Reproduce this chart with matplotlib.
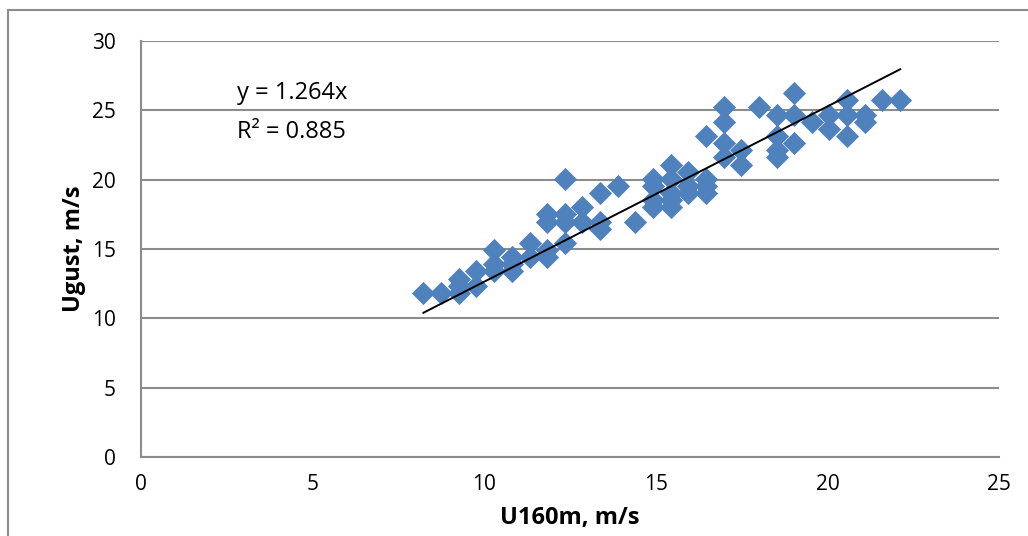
import numpy as np
import matplotlib
matplotlib.use("Agg")
import matplotlib.pyplot as plt
from matplotlib.patches import Rectangle

# wind speed at 160 m and gust speed, m/s
u160 = [8.23, 8.75, 9.26, 9.26, 9.26, 9.77, 9.77,
        10.29, 10.29, 10.29, 10.80, 10.80, 10.80, 11.32, 11.32,
        11.83, 11.83, 11.83, 11.83, 12.35, 12.35, 12.35, 12.35,
        12.86, 12.86, 13.38, 13.38, 13.38, 13.89, 14.40,
        14.92, 14.92, 14.92, 14.92, 15.43, 15.43, 15.43, 15.43, 15.43,
        15.95, 15.95, 15.95, 16.46, 16.46, 16.46, 16.46,
        16.98, 16.98, 16.98, 16.98, 17.49, 17.49, 18.01,
        18.52, 18.52, 18.52, 18.52, 19.03, 19.03, 19.03, 19.55,
        20.06, 20.06, 20.58, 20.58, 20.58, 21.09, 21.09, 21.60, 22.12]
ugust = [11.83, 11.83, 12.86, 12.35, 11.83, 13.38, 12.35,
         14.92, 13.89, 13.38, 14.40, 13.89, 13.38, 15.43, 14.40,
         17.49, 16.98, 14.92, 14.40, 20.06, 17.49, 16.98, 15.43,
         18.01, 16.98, 19.03, 16.98, 16.46, 19.55, 16.98,
         20.06, 19.55, 18.52, 18.01, 21.09, 20.06, 19.03, 18.52, 18.01,
         20.58, 19.55, 19.03, 23.15, 20.06, 19.55, 19.03,
         25.21, 24.18, 22.64, 21.61, 22.12, 21.09, 25.21,
         24.69, 23.15, 22.12, 21.61, 26.24, 24.69, 22.64, 24.18,
         24.69, 23.67, 25.72, 24.69, 23.15, 24.69, 24.18, 25.72, 25.72]
slope = 1.264
r2 = 0.885

xticks = [0, 5, 10, 15, 20, 25]
yticks = [0, 5, 10, 15, 20, 25, 30]

plt.rcParams['font.family'] = ['Open Sans', 'DejaVu Sans']

fig = plt.figure(figsize=(10.28, 5.36), dpi=100)
fig.patches.append(Rectangle((8 / 1028, -0.1), 1.2, 1 - 10 / 536 + 0.1,
                             transform=fig.transFigure, fill=False,
                             edgecolor='#8c8c8c', linewidth=1.5))
ax = fig.add_axes([141 / 1028, 1 - 457 / 536, 858 / 1028, 416 / 536])

ax.scatter(u160, ugust, marker='D', s=140, color='#4f81bd', linewidths=0, zorder=3)
xl = np.array([min(u160), max(u160)])
ax.plot(xl, slope * xl, color='black', linewidth=1.4, zorder=4)

ax.set_xlim(0, 25)
ax.set_ylim(0, 30)
ax.set_xticks(xticks)
ax.set_yticks(yticks)
ax.grid(axis='y', color='#8c8c8c', linewidth=1.5)
ax.set_axisbelow(True)
for s in ['top', 'right']:
    ax.spines[s].set_visible(False)
for s in ['left', 'bottom']:
    ax.spines[s].set_color('#8c8c8c')
    ax.spines[s].set_linewidth(1.5)
ax.tick_params(length=0, labelsize=15)
ax.tick_params(axis='x', pad=12)
ax.tick_params(axis='y', pad=18)

ax.set_xlabel('U160m, m/s', fontsize=17, fontweight='bold', labelpad=8)
ax.set_ylabel('Ugust, m/s', fontsize=17, fontweight='bold', labelpad=4)

ax.text(2.8, 25.8, 'y = 1.264x', fontsize=17)
ax.text(2.8, 23.0, 'R² = 0.885', fontsize=17)

fig.savefig('out.png', dpi=100)
